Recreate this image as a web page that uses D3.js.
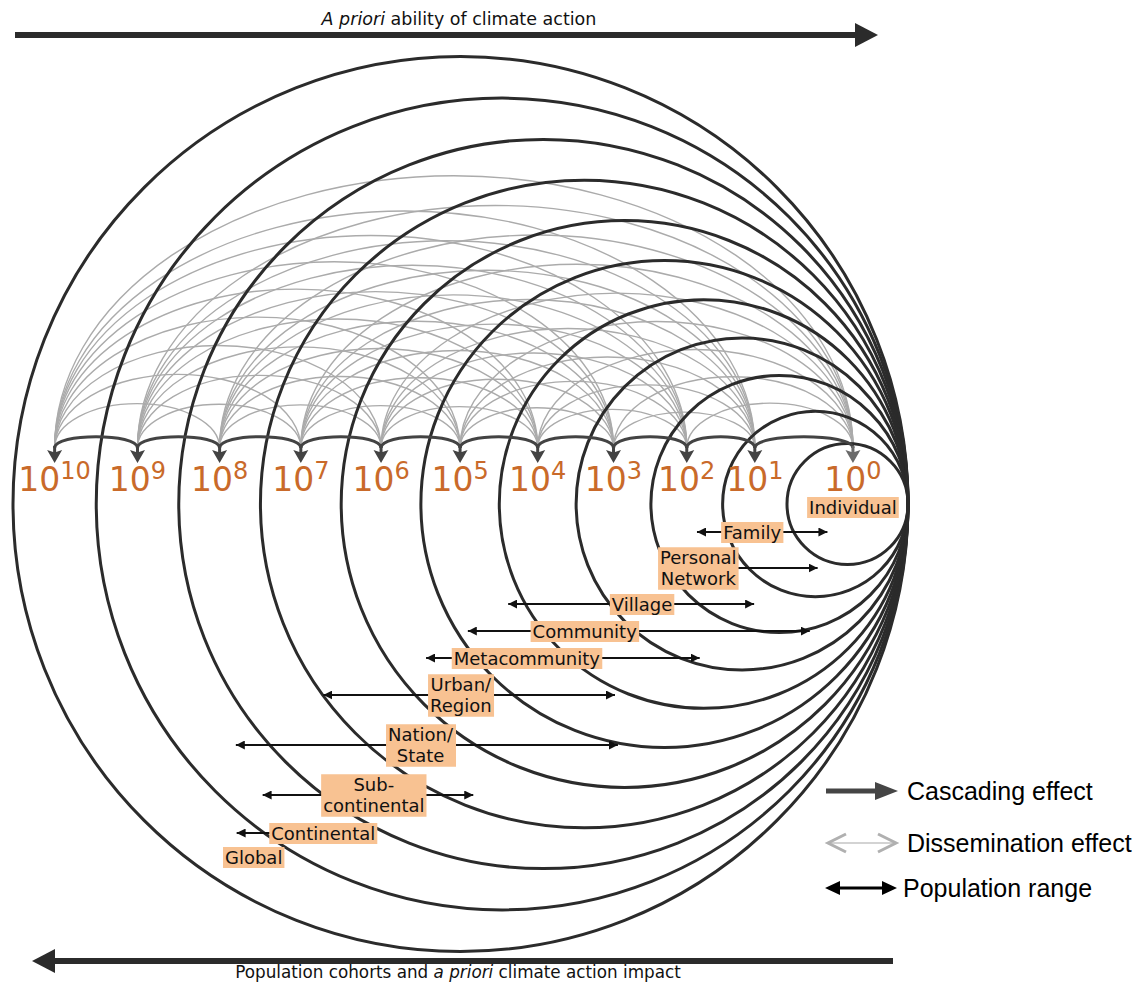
<!DOCTYPE html>
<html>
<head>
<meta charset="utf-8">
<script src="https://cdn.jsdelivr.net/npm/d3@7"></script>
<style>
  body { margin: 0; background: #fff; }
  svg text { font-family: "DejaVu Sans", Verdana, sans-serif; }
</style>
</head>
<body>
<div id="chart"></div>
<script>
(function(d3) {
    'use strict';

    // population exponents (10^k), one ring per cohort
    var exponents = [0, 1, 2, 3, 4, 5, 6, 7, 8, 9, 10];
    var cohorts = ['Individual', 'Family', 'Personal\nNetwork', 'Village', 'Community', 'Metacommunity',
                   'Urban/\nRegion', 'Nation/\nState', 'Sub-\ncontinental', 'Continental', 'Global'];
    // population range of each cohort, in powers of ten (null = no arrow)
    var rangeLow  = [null, 0.26, 0.36, 1.01, 0.44, 1.81, 2.98, 2.94, 4.83, 7.0, null];
    var rangeHigh = [null, 1.85, 1.95, 4.38, 4.90, 5.43, 6.72, 7.80, 7.47, 7.79, null];
    var legendItems = ['Cascading effect', 'Dissemination effect', 'Population range'];
    var topTitle = ['A priori', ' ability of climate action'];
    var bottomTitle = ['Population cohorts and ', 'a priori', ' climate action impact'];

    var width = 1147,
        height = 985;

    var tangentX = 908,
        cy = 504,
        nodeY = 448;

    var orange = '#c96a2a',
        dark = '#2b2b2b',
        arch = '#434343',
        grey = '#ababab',
        peach = '#f8c292';

    // layout of the cohort tags (centre in powers of ten, row y)
    var labelAt = [0, 1.04, 1.83, 2.61, 3.38, 4.14, 4.99, 5.5, 6.09, 6.72, 7.58];
    var labelY = [507, 532, 568, 604, 631, 658, 695, 745, 795, 833, 857];

    var diameter = d3.scalePow()
        .exponent(1.08)
        .domain([0, 10])
        .range([121, 895]);

    function leftEdge(k) { return tangentX - diameter(k); }

    var nodeX = exponents.map(function(k) {
        if (k === 0) return leftEdge(0) + diameter(0) * 0.545;
        return (leftEdge(k) + leftEdge(k - 1)) / 2;
    });

    var x = d3.scaleLinear()
        .domain(exponents)
        .range(nodeX);

    var svg = d3.select('#chart').append('svg')
        .attr('width', width)
        .attr('height', height);

    var defs = svg.append('defs');
    defs.append('marker')
        .attr('id', 'range-head')
        .attr('viewBox', '0 0 10 10')
        .attr('refX', 10)
        .attr('refY', 5)
        .attr('markerUnits', 'userSpaceOnUse')
        .attr('markerWidth', 9)
        .attr('markerHeight', 9)
        .attr('orient', 'auto-start-reverse')
        .append('path')
        .attr('d', 'M0,0 L10,5 L0,10 z')
        .attr('fill', '#111');

    // dissemination arcs between non-adjacent cohorts
    var pairs = [];
    exponents.forEach(function(a) {
        exponents.forEach(function(b) {
            if (b - a >= 2) pairs.push([a, b]);
        });
    });

    svg.append('g')
        .selectAll('path')
        .data(pairs)
        .enter()
        .append('path')
        .attr('d', function(p) {
            var xl = x(p[1]), xr = x(p[0]);
            var span = xr - xl;
            var h = 0.36 * span - 15;
            return 'M' + xl + ',' + nodeY + ' A' + (span / 2) + ',' + h + ' 0 0 1 ' + xr + ',' + nodeY;
        })
        .attr('fill', 'none')
        .attr('stroke', grey)
        .attr('stroke-width', 1.4);

    // cohort rings, all touching on the right
    svg.append('g')
        .selectAll('circle')
        .data(exponents)
        .enter()
        .append('circle')
        .attr('cx', function(k) { return tangentX - diameter(k) / 2; })
        .attr('cy', cy)
        .attr('r', function(k) { return diameter(k) / 2; })
        .attr('fill', 'none')
        .attr('stroke', dark)
        .attr('stroke-width', 3);

    // cascading arches between neighbours
    svg.append('g')
        .selectAll('path')
        .data(exponents.slice(0, -1))
        .enter()
        .append('path')
        .attr('d', function(k) {
            var x1 = x(k + 1), x2 = x(k), top = nodeY - 15;
            return 'M' + x1 + ',' + nodeY + ' C' + x1 + ',' + top + ' ' + x2 + ',' + top + ' ' + x2 + ',' + nodeY;
        })
        .attr('fill', 'none')
        .attr('stroke', arch)
        .attr('stroke-width', 3);

    svg.append('g')
        .selectAll('path')
        .data(exponents)
        .enter()
        .append('path')
        .attr('d', function(k) {
            var cx = x(k);
            return 'M' + (cx - 1.5) + ',' + (nodeY - 2) + ' L' + (cx - 1.5) + ',' + (nodeY + 4) +
                ' L' + (cx - 7.5) + ',' + (nodeY + 2) + ' L' + cx + ',' + (nodeY + 15) +
                ' L' + (cx + 7.5) + ',' + (nodeY + 2) + ' L' + (cx + 1.5) + ',' + (nodeY + 4) +
                ' L' + (cx + 1.5) + ',' + (nodeY - 2) + ' Z';
        })
        .attr('fill', function(k) { return k === 0 ? '#6a6a6a' : arch; });

    // 10^k labels
    var power = svg.append('g')
        .selectAll('text')
        .data(exponents)
        .enter()
        .append('text')
        .attr('x', function(k) { return x(k); })
        .attr('y', nodeY + 43)
        .attr('text-anchor', 'middle')
        .attr('fill', orange)
        .style('font-size', '33px');
    power.append('tspan').text('10');
    power.append('tspan')
        .attr('dy', -12)
        .style('font-size', '24px')
        .text(function(k) { return k; });

    // population range arrows
    var ranged = exponents.filter(function(i) { return rangeLow[i] !== null; });
    svg.append('g')
        .selectAll('line')
        .data(ranged)
        .enter()
        .append('line')
        .attr('x1', function(i) { return x(rangeHigh[i]); })
        .attr('x2', function(i) { return x(rangeLow[i]); })
        .attr('y1', function(i) { return labelY[i]; })
        .attr('y2', function(i) { return labelY[i]; })
        .attr('stroke', '#111')
        .attr('stroke-width', 1.8)
        .attr('marker-start', 'url(#range-head)')
        .attr('marker-end', 'url(#range-head)');

    // cohort tags
    var tag = svg.append('g')
        .selectAll('g')
        .data(cohorts)
        .enter()
        .append('g');

    tag.each(function(name, i) {
        var g = d3.select(this);
        var lines = name.split('\n');
        var rect = g.append('rect').attr('fill', peach);
        var t = g.append('text')
            .attr('text-anchor', 'middle')
            .attr('fill', '#111')
            .style('font-size', '18px');
        lines.forEach(function(line, j) {
            t.append('tspan')
                .attr('x', x(labelAt[i]))
                .attr('y', labelY[i] + 6.5 + (j - (lines.length - 1) / 2) * 21.5)
                .text(line);
        });
        var bb = t.node().getBBox();
        rect.attr('x', bb.x - 2)
            .attr('y', bb.y + 0.5)
            .attr('width', bb.width + 4)
            .attr('height', bb.height);
    });

    // axis arrows
    svg.append('line')
        .attr('x1', 15).attr('x2', 858)
        .attr('y1', 35).attr('y2', 35)
        .attr('stroke', dark).attr('stroke-width', 6);
    svg.append('path')
        .attr('d', 'M855,23 L878,35 L855,47 Z')
        .attr('fill', dark);

    svg.append('line')
        .attr('x1', 52).attr('x2', 893)
        .attr('y1', 961).attr('y2', 961)
        .attr('stroke', dark).attr('stroke-width', 6);
    svg.append('path')
        .attr('d', 'M55,949 L32,961 L55,973 Z')
        .attr('fill', dark);

    var tt = svg.append('text')
        .attr('x', 459).attr('y', 25)
        .attr('text-anchor', 'middle')
        .attr('fill', '#111')
        .style('font-size', '17.5px');
    topTitle.forEach(function(s, i) {
        tt.append('tspan').style('font-style', i === 0 ? 'italic' : 'normal').text(s);
    });

    var bt = svg.append('text')
        .attr('x', 458).attr('y', 978)
        .attr('text-anchor', 'middle')
        .attr('fill', '#111')
        .style('font-size', '16.8px');
    bottomTitle.forEach(function(s, i) {
        bt.append('tspan').style('font-style', i === 1 ? 'italic' : 'normal').text(s);
    });

    // legend
    var legendY = [791, 843, 888];
    var legend = svg.append('g');

    legend.append('line')
        .attr('x1', 826).attr('x2', 880)
        .attr('y1', legendY[0]).attr('y2', legendY[0])
        .attr('stroke', '#454545').attr('stroke-width', 5);
    legend.append('path')
        .attr('d', 'M875,' + (legendY[0] - 9) + ' L898,' + legendY[0] + ' L875,' + (legendY[0] + 9) + ' Z')
        .attr('fill', '#454545');

    legend.append('line')
        .attr('x1', 828).attr('x2', 896)
        .attr('y1', legendY[1]).attr('y2', legendY[1])
        .attr('stroke', '#c4c4c4').attr('stroke-width', 1.5);
    legend.append('path')
        .attr('d', 'M846,' + (legendY[1] - 9) + ' L828,' + legendY[1] + ' L846,' + (legendY[1] + 9) +
            ' M878,' + (legendY[1] - 9) + ' L896,' + legendY[1] + ' L878,' + (legendY[1] + 9))
        .attr('fill', 'none')
        .attr('stroke', '#b0b0b0').attr('stroke-width', 3);

    legend.append('line')
        .attr('x1', 836).attr('x2', 886)
        .attr('y1', legendY[2]).attr('y2', legendY[2])
        .attr('stroke', '#000').attr('stroke-width', 3);
    legend.append('path')
        .attr('d', 'M840,' + (legendY[2] - 7) + ' L825,' + legendY[2] + ' L840,' + (legendY[2] + 7) + ' Z' +
            ' M882,' + (legendY[2] - 7) + ' L897,' + legendY[2] + ' L882,' + (legendY[2] + 7) + ' Z')
        .attr('fill', '#000');

    legend.selectAll('text')
        .data(legendItems)
        .enter()
        .append('text')
        .attr('x', function(d, i) { return i === 2 ? 903 : 907; })
        .attr('y', function(d, i) { return legendY[i] + 8.5; })
        .attr('fill', '#000')
        .style('font-family', '"Liberation Sans", Arial, sans-serif')
        .style('font-size', '25px')
        .text(function(d) { return d; });

})(window.d3);
</script>
</body>
</html>
